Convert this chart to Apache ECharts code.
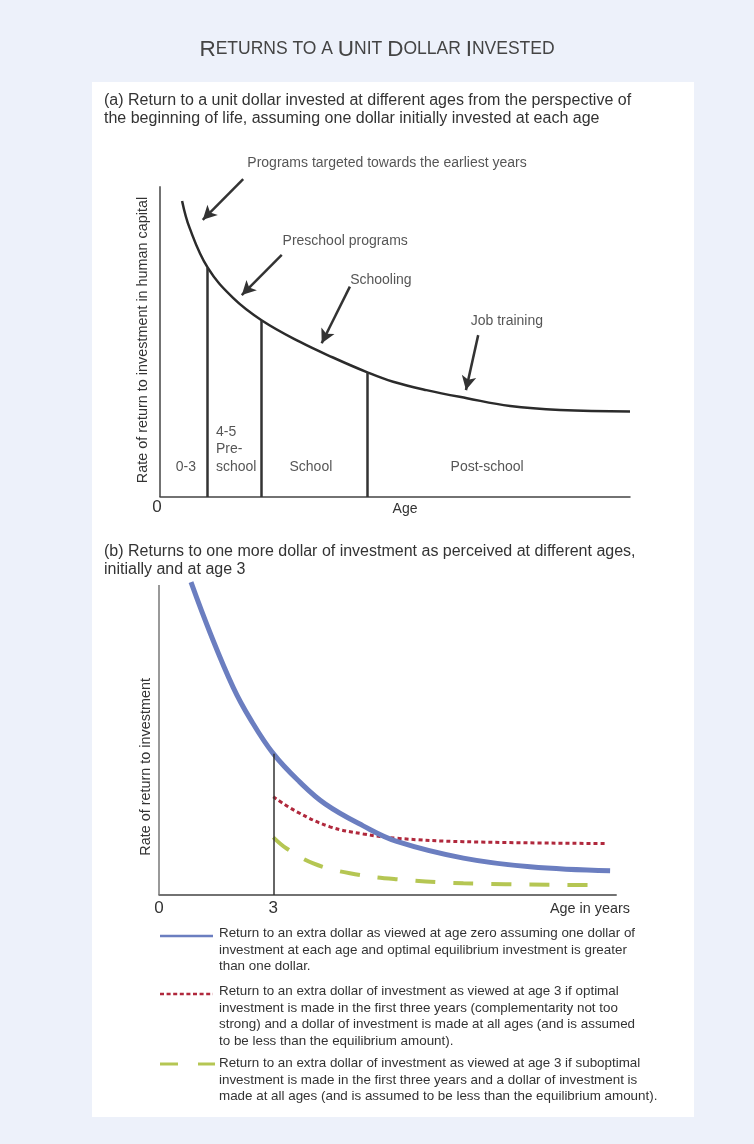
<!DOCTYPE html>
<html><head><meta charset="utf-8">
<script src="https://cdn.jsdelivr.net/npm/echarts@6/dist/echarts.min.js"></script>
<style>html,body{margin:0;padding:0;background:#EDF1FA}#c{width:754px;height:1144px}</style>
</head><body><div id="c"></div>
<script>
// ---------- Panel (a) data ----------
const agesA   = [4.7, 6.3, 10.15, 15.6, 21.6, 29.8, 36.8, 44.0, 49.6, 56.7, 65.3, 74.5, 85.1, 100];
const returnA = [95.3, 86.6, 73.8, 64.0, 56.9, 49.9, 44.9, 40.2, 37.1, 34.4, 31.8, 29.3, 28.0, 27.5];
const stageBounds = [10.15, 21.6, 44.0];
const stageLabels = ['0-3', '4-5\nPre-\nschool', 'School', 'Post-school'];
const annotationTexts = ['Programs targeted towards the earliest years', 'Preschool programs', 'Schooling', 'Job training'];
const xTicksA = ['0'];

// ---------- Panel (b) data ----------
const agesBlue   = [0.84, 1.34, 1.95, 2.39, 3.0, 3.69, 4.36, 5.36, 6.24, 7.99, 9.74, 11.84];
const returnBlue = [100.9, 84.6, 66.9, 56.9, 45.6, 36.5, 29.4, 22.3, 17.3, 11.9, 9.1, 7.8];
const agesRed    = [3.0, 3.61, 4.49, 5.36, 6.24, 7.99, 11.75];
const returnRed  = [31.7, 26.9, 22.0, 19.7, 18.3, 17.2, 16.6];
const agesGreen  = [3.0, 3.35, 4.05, 5.01, 6.24, 7.99, 11.4];
const returnGreen= [18.6, 15.0, 10.2, 7.0, 5.1, 3.8, 3.2];
const ageMark = 3;
const xTicksB = ['0', '3'];
const legendTexts = [
  'Return to an extra dollar as viewed at age zero assuming one dollar of\ninvestment at each age and optimal equilibrium investment is greater\nthan one dollar.',
  'Return to an extra dollar of investment as viewed at age 3 if optimal\ninvestment is made in the first three years (complementarity not too\nstrong) and a dollar of investment is made at all ages (and is assumed\nto be less than the equilibrium amount).',
  'Return to an extra dollar of investment as viewed at age 3 if suboptimal\ninvestment is made in the first three years and a dollar of investment is\nmade at all ages (and is assumed to be less than the equilibrium amount).'
];

// ---------- layout (kept apart from data) ----------
const FONT = '"Liberation Sans", Arial, sans-serif';
const TXT = '#333';
const BLUE = '#6B7EC0', RED = '#B0283C', GREEN = '#B5C653';
const annotPos = [[48.3, 107.5], [39.4, 82.4], [47.0, 69.8], [73.8, 56.6]];
const arrowPos = [[[17.7, 102.3], [9.1, 89.2]], [[25.9, 77.9], [17.4, 65.0]], [[40.4, 67.7], [34.4, 49.5]], [[67.7, 52.1], [65.1, 34.4]]];
const stagePos = [[5.5, 9.7, 'center'], [11.9, 15.4, 'left'], [32.1, 9.7, 'center'], [69.6, 9.7, 'center']];

function interp(xs, ys, x) {
  for (let i = 0; i < xs.length - 1; i++) {
    if (x >= xs[i] && x <= xs[i + 1]) {
      const t = (x - xs[i]) / (xs[i + 1] - xs[i]);
      return ys[i] + t * (ys[i + 1] - ys[i]);
    }
  }
  return ys[ys.length - 1];
}
const zip = (a, b) => a.map((v, i) => [v, b[i]]);

const chart = echarts.init(document.getElementById('c'), null, { renderer: 'canvas' });

const markA = [];
markA.push([{ coord: [0, 0], lineStyle: { width: 1.5, color: '#444' } }, { coord: [0, 100] }]);
stageBounds.forEach(b => markA.push([{ coord: [b, 0] }, { coord: [b, interp(agesA, returnA, b)] }]));
arrowPos.forEach(p => markA.push([{ coord: p[0] }, { coord: p[1], symbol: 'arrow', symbolSize: [11, 14] }]));

const markB = [
  [{ coord: [0, 0], lineStyle: { width: 1.5, color: '#777' } }, { coord: [0, 100] }],
  [{ coord: [ageMark, 0] }, { coord: [ageMark, interp(agesBlue, returnBlue, ageMark)] }]
];

const textPointsA = annotationTexts.map((t, i) => ({ value: [annotPos[i][0], annotPos[i][1]], name: t }))
  .concat(stageLabels.map((t, i) => ({ value: [stagePos[i][0], stagePos[i][1]], name: t, label: { align: stagePos[i][2] } })));

const option = {
  animation: false,
  backgroundColor: '#EDF1FA',
  textStyle: { fontFamily: FONT },
  title: {
    left: 'center', top: 33,
    text: '{b|R}{s|ETURNS TO A }{b|U}{s|NIT }{b|D}{s|OLLAR }{b|I}{s|NVESTED}',
    textStyle: {
      fontWeight: 'normal',
      rich: {
        b: { fontSize: 22.5, color: '#444', fontFamily: FONT, fontWeight: 'normal' },
        s: { fontSize: 17.5, color: '#444', fontFamily: FONT, fontWeight: 'normal' }
      }
    }
  },
  graphic: [
    { type: 'rect', z: -10, shape: { x: 92, y: 82, width: 602, height: 1035 }, style: { fill: '#fff' } },
    { type: 'text', x: 104, y: 92, style: { text: '(a) Return to a unit dollar invested at different ages from the perspective of\nthe beginning of life, assuming one dollar initially invested at each age', font: '16px ' + FONT, fill: TXT, lineHeight: 18 } },
    { type: 'text', x: 104, y: 543, style: { text: '(b) Returns to one more dollar of investment as perceived at different ages,\ninitially and at age 3', font: '16px ' + FONT, fill: TXT, lineHeight: 18 } },
    { type: 'text', x: 630, y: 909, style: { text: 'Age in years', font: '14.4px ' + FONT, fill: TXT, align: 'right', verticalAlign: 'middle' } },
    // legend
    { type: 'line', shape: { x1: 160, y1: 936, x2: 213, y2: 936 }, style: { stroke: BLUE, lineWidth: 2.5 } },
    { type: 'line', shape: { x1: 160, y1: 994, x2: 213, y2: 994 }, style: { stroke: RED, lineWidth: 2.5, lineDash: [4, 2.6] } },
    { type: 'line', shape: { x1: 160, y1: 1064, x2: 178, y2: 1064 }, style: { stroke: GREEN, lineWidth: 3 } },
    { type: 'line', shape: { x1: 198, y1: 1064, x2: 215, y2: 1064 }, style: { stroke: GREEN, lineWidth: 3 } },
    { type: 'text', x: 219, y: 925.5, style: { text: legendTexts[0], font: '13.4px ' + FONT, fill: TXT, lineHeight: 16.5 } },
    { type: 'text', x: 219, y: 983.5, style: { text: legendTexts[1], font: '13.4px ' + FONT, fill: TXT, lineHeight: 16.5 } },
    { type: 'text', x: 219, y: 1055.5, style: { text: legendTexts[2], font: '13.4px ' + FONT, fill: TXT, lineHeight: 16.5 } }
  ],
  grid: [
    { left: 160, right: 124, top: 149, bottom: 647 },
    { left: 159, right: 137.8, top: 578.8, bottom: 249 }
  ],
  xAxis: [
    {
      gridIndex: 0, type: 'value', min: 0, max: 100, interval: 100,
      axisLine: { lineStyle: { color: '#444', width: 1.5 } }, axisTick: { show: false }, splitLine: { show: false },
      axisLabel: { formatter: v => (v === 0 ? xTicksA[0] : ''), fontSize: 17, color: TXT, margin: 2, padding: [0, 6, 0, 0] },
      name: 'Age', nameLocation: 'middle', nameGap: 5, nameMoveOverlap: false,
      nameTextStyle: { fontSize: 14, color: TXT, padding: [0, 0, 0, 20], verticalAlign: 'top' }
    },
    {
      gridIndex: 1, type: 'value', min: 0, max: 12, interval: 3,
      axisLine: { lineStyle: { color: '#444', width: 1.5 } }, axisTick: { show: false }, splitLine: { show: false },
      axisLabel: { formatter: v => (v === 0 ? xTicksB[0] : v === ageMark ? xTicksB[1] : ''), fontSize: 17, color: TXT, margin: 5 }
    }
  ],
  yAxis: [
    {
      gridIndex: 0, type: 'value', min: 0, max: 112,
      axisLine: { show: false }, axisTick: { show: false }, axisLabel: { show: false }, splitLine: { show: false },
      name: 'Rate of return to investment in human capital', nameLocation: 'middle', nameGap: 10, nameMoveOverlap: false,
      nameTextStyle: { fontSize: 14.4, color: TXT, padding: [0, 34, 0, 0] }
    },
    {
      gridIndex: 1, type: 'value', min: 0, max: 102,
      axisLine: { show: false }, axisTick: { show: false }, axisLabel: { show: false }, splitLine: { show: false },
      name: 'Rate of return to investment', nameLocation: 'middle', nameGap: 6, nameMoveOverlap: false,
      nameTextStyle: { fontSize: 14.4, color: TXT, padding: [0, 60, 0, 0] }
    }
  ],
  series: [
    {
      name: 'returnA', type: 'line', xAxisIndex: 0, yAxisIndex: 0, data: zip(agesA, returnA),
      smooth: 0.4, showSymbol: false, silent: true,
      lineStyle: { color: '#2b2b2b', width: 2.5 },
      markLine: { silent: true, symbol: ['none', 'none'], label: { show: false }, lineStyle: { color: '#333', width: 2.5, type: 'solid' }, emphasis: { disabled: true }, data: markA }
    },
    {
      name: 'labelsA', type: 'scatter', xAxisIndex: 0, yAxisIndex: 0, data: textPointsA, symbolSize: 0, silent: true,
      label: { show: true, position: 'inside', formatter: p => p.name, fontSize: 14, color: '#2a2a2a', textBorderWidth: 0, lineHeight: 17.5 }
    },
    {
      name: 'blue', type: 'line', xAxisIndex: 1, yAxisIndex: 1, data: zip(agesBlue, returnBlue),
      smooth: 0.4, showSymbol: false, silent: true, z: 3,
      lineStyle: { color: BLUE, width: 5 },
      markLine: { silent: true, symbol: ['none', 'none'], label: { show: false }, lineStyle: { color: '#333', width: 1.5, type: 'solid' }, emphasis: { disabled: true }, data: markB }
    },
    {
      name: 'red', type: 'line', xAxisIndex: 1, yAxisIndex: 1, data: zip(agesRed, returnRed),
      smooth: 0.4, showSymbol: false, silent: true, z: 2,
      lineStyle: { color: RED, width: 3, type: [4, 3] }
    },
    {
      name: 'green', type: 'line', xAxisIndex: 1, yAxisIndex: 1, data: zip(agesGreen, returnGreen),
      smooth: 0.4, showSymbol: false, silent: true, z: 2,
      lineStyle: { color: GREEN, width: 4, type: [20, 18] }
    }
  ]
};
chart.setOption(option);
</script>
</body></html>
